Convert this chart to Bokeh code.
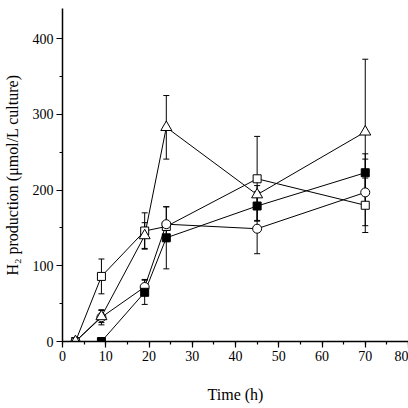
from bokeh.plotting import figure
from bokeh.models import ColumnDataSource, Whisker, TeeHead, SingleIntervalTicker, Range1d
from bokeh.embed import file_html
from bokeh.resources import INLINE

# Data
time = [3, 9, 19, 24, 45, 70]
open_square = [0, 86, 146, 152, 215, 180]
open_square_err = [0, 23, 24, 5, 56, 36]
open_triangle = [0, 33, 140, 283, 194, 277]
open_triangle_err = [0, 8, 17, 42, 12, 96]
open_circle = [0, 32, 72, 155, 149, 197]
open_circle_err = [0, 10, 10, 23, 33, 44]
time_filled = [9, 19, 24, 45, 70]
filled_square = [0, 65, 137, 179, 223]
filled_square_err = [0, 16, 41, 19, 25]

x_ticks_interval = 10
y_ticks_interval = 100

FONT = "'Liberation Serif', 'Times New Roman', serif"

p = figure(frame_width=346, frame_height=333, output_backend="svg", toolbar_location=None,
           x_range=Range1d(0, 80), y_range=Range1d(0, 440),
           min_border_left=58, min_border_right=0, min_border_top=8, min_border_bottom=67)
p.outline_line_color = None
p.xgrid.visible = False
p.ygrid.visible = False
p.background_fill_color = "white"

p.xaxis.ticker = SingleIntervalTicker(interval=x_ticks_interval, num_minor_ticks=2)
p.yaxis.ticker = SingleIntervalTicker(interval=y_ticks_interval, num_minor_ticks=2)
for ax in (p.xaxis[0], p.yaxis[0]):
    ax.axis_line_width = 1.5
    ax.axis_line_color = "black"
    ax.major_tick_in = 0
    ax.major_tick_out = 6
    ax.minor_tick_in = 0
    ax.minor_tick_out = 3
    ax.major_tick_line_color = "black"
    ax.minor_tick_line_color = "black"
    ax.major_tick_line_width = 1.2
    ax.minor_tick_line_width = 1.2
    ax.major_label_text_font = FONT
    ax.major_label_text_font_size = "14px"
    ax.major_label_text_color = "black"
    ax.major_label_standoff = 3
    ax.axis_label_text_font = FONT
    ax.axis_label_text_font_size = "16px"
    ax.axis_label_text_font_style = "normal"
    ax.axis_label_text_color = "black"

p.xaxis.axis_label = "Time (h)"
p.xaxis.axis_label_standoff = 22
p.yaxis.axis_label = "H\u2082 production (\u03bcmol/L culture)"
p.yaxis.axis_label_standoff = 9

series = [
    (time, open_square, open_square_err, "square", "white", 8),
    (time, open_circle, open_circle_err, "circle", "white", 9),
    (time_filled, filled_square, filled_square_err, "square", "black", 8),
    (time, open_triangle, open_triangle_err, "triangle", "white", 11),
]

sources = []
for xs, ys, es, marker, fill, size in series:
    src = ColumnDataSource(dict(
        x=xs, y=ys,
        upper=[y + e for y, e in zip(ys, es)],
        lower=[y - e for y, e in zip(ys, es)],
    ))
    sources.append((src, marker, fill, size))
    p.line("x", "y", source=src, line_color="black", line_width=1)

for src, marker, fill, size in sources:
    w = Whisker(base="x", upper="upper", lower="lower", source=src,
                line_color="black", line_width=1,
                upper_head=TeeHead(size=6, line_color="black", line_width=1),
                lower_head=TeeHead(size=6, line_color="black", line_width=1))
    p.add_layout(w)

for src, marker, fill, size in sources:
    p.scatter("x", "y", source=src, marker=marker, size=size,
              fill_color=fill, line_color="black", line_width=1)

open("out.html", "w").write(file_html(p, INLINE))
